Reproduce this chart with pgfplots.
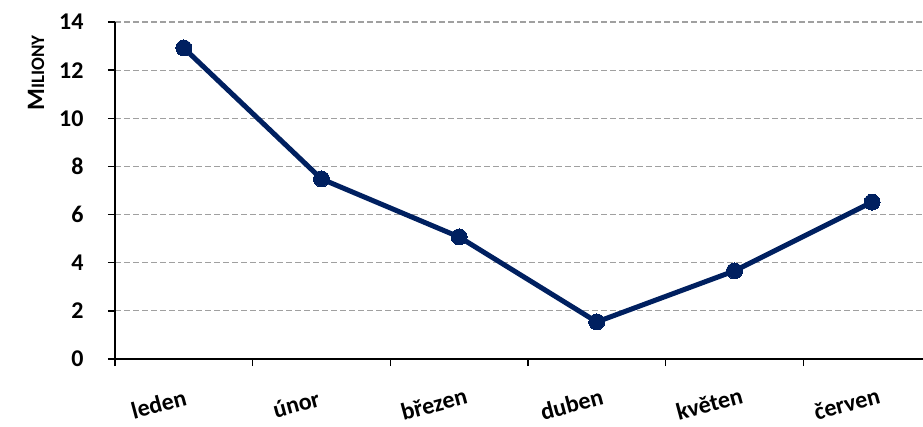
\documentclass[border=0pt]{standalone}
\usepackage{pgfplots}
\pgfplotsset{compat=1.18}
\usepackage{fontspec}
\setmainfont{Carlito}
\definecolor{navy}{HTML}{002060}
\definecolor{gridgray}{HTML}{A0A0A0}
\begin{document}
\begin{tikzpicture}[x=1pt,y=1pt]
\begin{axis}[
  scale only axis,
  width=808pt, height=337pt,
  xmin=-0.5, xmax=5.37,
  ymin=0, ymax=14,
  ytick={0,2,...,14},
  yticklabel={\pgfmathprintnumber{\tick}\hspace*{21pt}},
  xtick={-0.5,0.5,1.5,2.5,3.5,4.5},
  xticklabels={},
  extra x ticks={0,1,2,3,4,5},
  extra x tick labels={leden,únor,březen,duben,květen,červen},
  extra x tick style={major tick length=0pt, grid=none,
    tick label style={rotate=15, anchor=center, xshift=-36pt, yshift=-37pt}},
  axis x line*=bottom,
  axis y line*=left,
  axis line style={line width=1.3pt, black, -},
  major tick length=7pt,
  tick style={line width=1.3pt, black},
  xtick pos=bottom, ytick pos=left,
  tick align=outside,
  ymajorgrids,
  grid style={dashed, gridgray, line width=1.2pt, dash pattern=on 6pt off 3pt},
  tick label style={font=\fontsize{24}{27}\selectfont\bfseries},
  /pgf/number format/assume math mode=true,
  ylabel={\fontsize{25}{27}\selectfont\bfseries M\fontsize{19}{21}\selectfont ILIONY},
  ylabel style={at={(rel axis cs:0,1)}, anchor=center, xshift=-51pt, yshift=79pt},
  clip=false,
]
\addplot[navy, line width=5pt, mark=*, mark size=8pt, mark options={fill=navy, draw=navy, line width=0pt}]
  coordinates {(0,12.92) (1,7.48) (2,5.07) (3,1.54) (4,3.66) (5,6.52)};
\coordinate (O) at (rel axis cs:0,0);
\end{axis}
\pgfresetboundingbox
\path (O) ++(-115pt,-67pt) rectangle ++(923pt,426pt);
\end{tikzpicture}
\end{document}
